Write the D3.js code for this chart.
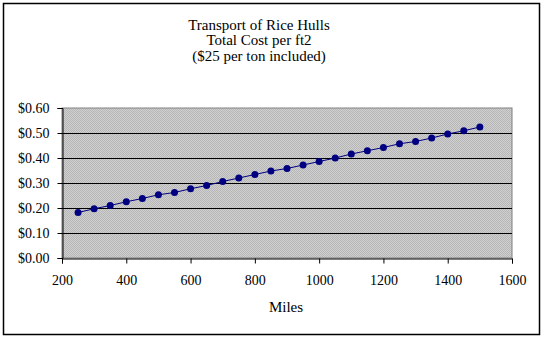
<!DOCTYPE html>
<html><head><meta charset="utf-8">
<script src="https://cdn.jsdelivr.net/npm/d3@7"></script>
<style>body{margin:0;background:#fff}svg{display:block}text{font-family:"Liberation Serif","Times New Roman",serif;fill:#000}</style>
</head><body>
<svg id="c" width="544" height="339"></svg>
<script>
const titleLines = ["Transport of Rice Hulls", "Total Cost per ft2", "($25 per ton included)"];
const xLabel = "Miles";
const miles = [250,300,350,400,450,500,550,600,650,700,750,800,850,900,950,1000,1050,1100,1150,1200,1250,1300,1350,1400,1450,1500];
const cost = [0.182,0.197,0.210,0.225,0.238,0.253,0.262,0.277,0.290,0.306,0.320,0.334,0.348,0.358,0.372,0.386,0.400,0.416,0.429,0.442,0.457,0.466,0.480,0.496,0.509,0.524];
const xTicks = [200,400,600,800,1000,1200,1400,1600];
const yTicks = [0,0.1,0.2,0.3,0.4,0.5,0.6];

const svg = d3.select("#c");
svg.append("rect").attr("x",3.5).attr("y",3.5).attr("width",536).attr("height",331)
  .attr("fill","#fff").attr("stroke","#000").attr("stroke-width",1.5);

const L=62,R=512,T=108,B=258;
const x = d3.scaleLinear().domain([200,1600]).range([L,R]);
const y = d3.scaleLinear().domain([0,0.6]).range([B,T]);

const defs = svg.append("defs");
const pat = defs.append("pattern").attr("id","dots").attr("width",2).attr("height",2).attr("patternUnits","userSpaceOnUse");
pat.append("rect").attr("width",2).attr("height",2).attr("fill","#d0d0d0");
pat.append("rect").attr("width",1).attr("height",1).attr("fill","#b6b6b6");
pat.append("rect").attr("x",1).attr("y",1).attr("width",1).attr("height",1).attr("fill","#b6b6b6");

svg.append("rect").attr("x",L).attr("y",T).attr("width",R-L).attr("height",B-T)
  .attr("fill","url(#dots)").attr("stroke","#808080").attr("stroke-width",1);

svg.append("g").selectAll("line").data(yTicks.filter(d=>d>0 && d<0.6)).join("line")
  .attr("x1",L).attr("x2",R).attr("y1",d=>Math.round(y(d))+0.5).attr("y2",d=>Math.round(y(d))+0.5)
  .attr("stroke","#000").attr("stroke-width",1);

const fs = "14px";
const gx = svg.append("g").attr("transform",`translate(0,${B+0.5})`)
  .call(d3.axisBottom(x).tickValues(xTicks).tickSize(5).tickPadding(12).tickFormat(d3.format("d")));
const gy = svg.append("g").attr("transform",`translate(${L+0.5},0)`)
  .call(d3.axisLeft(y).tickValues(yTicks).tickSize(5).tickPadding(8).tickFormat(d=>"$"+d.toFixed(2)));
[gx,gy].forEach(g=>{
  g.select(".domain").attr("stroke","#000");
  g.selectAll(".tick line").attr("stroke","#000");
  g.selectAll("text").attr("font-family","Liberation Serif").attr("font-size",fs).attr("fill","#000");
});

const line = d3.line().x((d,i)=>x(miles[i])).y(d=>y(d));
svg.append("path").datum(cost).attr("d",line).attr("fill","none").attr("stroke","#000080").attr("stroke-width",1);
svg.append("g").selectAll("circle").data(cost).join("circle")
  .attr("cx",(d,i)=>x(miles[i])).attr("cy",d=>y(d)).attr("r",3.5).attr("fill","#000080");

svg.append("g").selectAll("text").data(titleLines).join("text")
  .attr("x",259).attr("y",(d,i)=>29.5+i*15.5).attr("text-anchor","middle").attr("font-size","15px").text(d=>d);
svg.append("text").attr("x",286).attr("y",312).attr("text-anchor","middle").attr("font-size","15px").text(xLabel);
</script>
</body></html>
